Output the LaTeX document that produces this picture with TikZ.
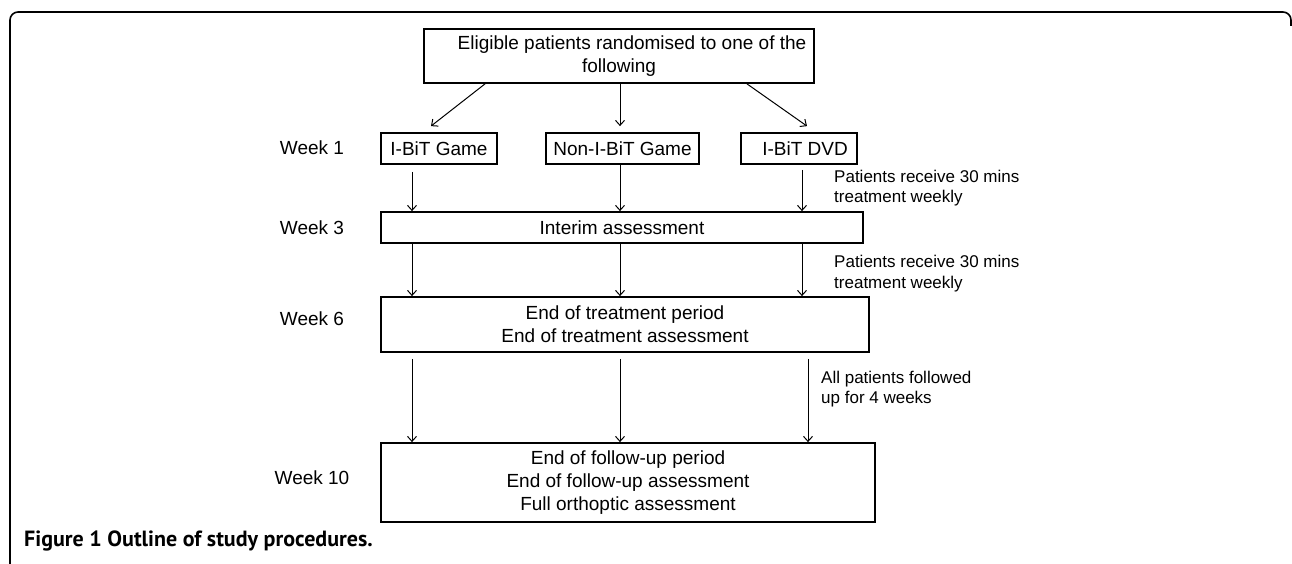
\documentclass[tikz,border=0pt]{standalone}
\usepackage{fontspec}
\setmainfont{Liberation Sans}
\newfontfamily\capfont{PT Sans}
\usetikzlibrary{arrows.meta}

\begin{document}
\begin{tikzpicture}[x=1pt, y=-1pt, >={Straight Barb[length=5pt,width=9pt]},
    box/.style={draw, rectangle, line width=1.8pt, inner sep=0pt, align=center, font=\fontsize{19}{23}\selectfont},
    week/.style={font=\fontsize{19}{23}\selectfont},
    note/.style={anchor=west, align=left, inner sep=0pt, font=\fontsize{17}{20.5}\selectfont},
    flow/.style={->, line width=1pt}]
    \useasboundingbox (0,0) rectangle (1292,564);
    \draw[line width=1.6pt, rounded corners=8pt] (10,564) -- (10,12) -- (1291,12) -- (1291,26);
    \node (rand) [box, minimum width=390pt, minimum height=54pt] at (619,56) {\hspace*{26pt}Eligible patients randomised to one of the\\following};
    \node (game) [box, minimum width=116pt, minimum height=31pt] at (439,148.5) {I-BiT Game};
    \node (nongame) [box, minimum width=153pt, minimum height=31pt] at (622.5,148.5) {Non-I-BiT Game};
    \node (dvd) [box, minimum width=116pt, minimum height=31pt] at (799,148.5) {\hspace*{12pt}I-BiT DVD};
    \node (interim) [box, minimum width=482pt, minimum height=31pt] at (622,227.5) {Interim assessment};
    \node (treat) [box, minimum width=488pt, minimum height=55pt] at (625,324.5) {End of treatment period\\End of treatment assessment};
    \node (follow) [box, minimum width=494pt, minimum height=79pt] at (628,482.5) {End of follow-up period\\End of follow-up assessment\\Full orthoptic assessment};
    \node (week1) [week] at (312,148) {Week 1};
    \node (week3) [week] at (312,228) {Week 3};
    \node (week6) [week] at (312,319) {Week 6};
    \node (week10) [week] at (312,478) {Week 10};
    \node (dose1) [note] at (834,188) {Patients receive 30 mins\\treatment weekly};
    \node (dose2) [note] at (834,273.5) {Patients receive 30 mins\\treatment weekly};
    \node (followup) [note] at (821,389) {All patients followed\\up for 4 weeks};
    \node (caption) [anchor=west, inner sep=0pt, font={\capfont\bfseries\fontsize{22}{25}\selectfont}] at (24,541) {Figure 1 Outline of study procedures.};
    \coordinate (colA) at (412,0);
    \coordinate (colB) at (620,0);
    \coordinate (colC) at (802,0);
    \coordinate (colD) at (808,0);
    \draw[flow] ([xshift=-134pt]rand.south) -- ([xshift=-8pt,yshift=6pt]game.north);
    \draw[flow, shorten >=6pt] (rand.south -| colB) -- (nongame.north -| colB);
    \draw[flow] ([xshift=128pt]rand.south) -- ([xshift=8pt,yshift=6pt]dvd.north);
    \draw[flow, shorten <=7pt] (game.south -| colA) -- (interim.north -| colA);
    \draw[flow] (nongame.south -| colB) -- (interim.north -| colB);
    \draw[flow, shorten <=5pt] (dvd.south -| colC) -- (interim.north -| colC);
    \draw[flow] (interim.south -| colA) -- (treat.north -| colA);
    \draw[flow] (interim.south -| colB) -- (treat.north -| colB);
    \draw[flow] (interim.south -| colC) -- (treat.north -| colC);
    \draw[flow, shorten <=6pt] (treat.south -| colA) -- (follow.north -| colA);
    \draw[flow, shorten <=6pt] (treat.south -| colB) -- (follow.north -| colB);
    \draw[flow, shorten <=6pt] (treat.south -| colD) -- (follow.north -| colD);
\end{tikzpicture}
\end{document}
